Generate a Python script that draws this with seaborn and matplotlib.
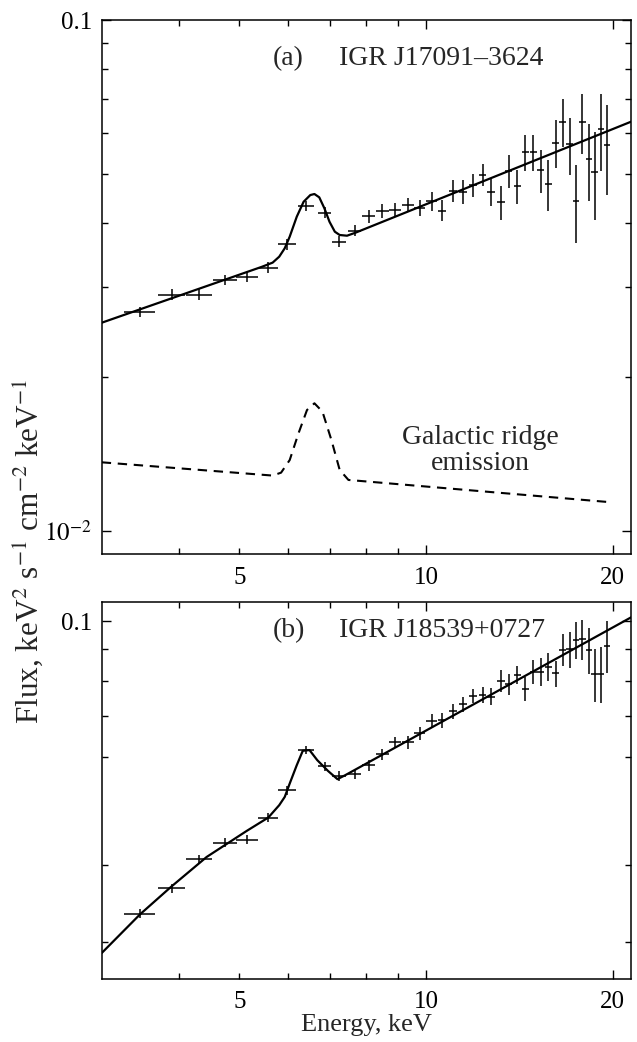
import matplotlib
matplotlib.use("Agg")
import matplotlib.pyplot as plt
from matplotlib.ticker import FixedLocator, FixedFormatter, NullFormatter
import pandas as pd
import seaborn as sns

# Energy bins shared by both spectra (keV): bin centres and half-widths
energy = [3.46, 3.89, 4.31, 4.75, 5.15, 5.57, 5.98, 6.41, 6.87, 7.25,
          7.68, 8.09, 8.51, 8.92, 9.35, 9.78, 10.22, 10.62, 11.05, 11.47,
          11.91, 12.34, 12.74, 13.20, 13.60, 14.04, 14.47, 14.90, 15.31, 15.76,
          16.19, 16.63, 17.06, 17.46, 17.88, 18.32, 18.72, 19.17, 19.58]
energy_halfwidth = [0.20, 0.19, 0.21, 0.21, 0.21, 0.20, 0.20, 0.19, 0.17, 0.19,
                    0.19, 0.19, 0.20, 0.20, 0.20, 0.20, 0.20, 0.17, 0.17, 0.17,
                    0.18, 0.18, 0.18, 0.19, 0.19, 0.19, 0.19, 0.20, 0.20, 0.21,
                    0.21, 0.21, 0.22, 0.22, 0.22, 0.23, 0.23, 0.23, 0.23]

# (a) IGR J17091-3624: measured flux and 1-sigma errors
flux_a = [0.02685, 0.02898, 0.02898, 0.03097, 0.03134, 0.03273, 0.03637, 0.04323, 0.04195, 0.03681,
          0.03868, 0.04131, 0.04226, 0.04246, 0.04348, 0.04290, 0.04416, 0.04232, 0.04632, 0.04611,
          0.04752, 0.04970, 0.04603, 0.04395, 0.05067, 0.04731, 0.05511, 0.05511, 0.05083, 0.04774,
          0.05751, 0.06323, 0.05709, 0.04421, 0.06323, 0.05333, 0.05045, 0.06109, 0.05681]
flux_a_err = [0.0006, 0.0007, 0.0007, 0.0007, 0.0007, 0.0008, 0.0009, 0.0010, 0.0010, 0.0009,
              0.0010, 0.0012, 0.0013, 0.0013, 0.0014, 0.0016, 0.0018, 0.0020, 0.0023, 0.0024,
              0.0024, 0.00245, 0.0028, 0.0033, 0.0038, 0.0036, 0.0045, 0.0045, 0.0049, 0.0055,
              0.0063, 0.0067, 0.0073, 0.0077, 0.0085, 0.0091, 0.0099, 0.0105, 0.0113]

# (a) best-fit model and Galactic ridge emission model
model_a_energy = [3.00, 5.44, 5.66, 5.80, 5.92, 6.03, 6.19, 6.35, 6.51, 6.61,
                  6.73, 6.86, 6.99, 7.13, 7.26, 7.46, 7.70, 21.43]
model_a_flux = [0.02554, 0.03287, 0.03349, 0.03440, 0.03573, 0.03765, 0.04119, 0.04407, 0.04542, 0.04563,
                0.04495, 0.04277, 0.04027, 0.03850, 0.03793, 0.03781, 0.03833, 0.06323]
ridge_energy = [3.00, 5.66, 5.84, 6.03, 6.23, 6.43, 6.61, 6.81, 7.04, 7.26, 7.50, 20.0]
ridge_flux = [0.01361, 0.01282, 0.01299, 0.01375, 0.01551, 0.01723, 0.01776, 0.01710, 0.01505, 0.01315,
              0.01257, 0.01136]

# (b) IGR J18539+0727: measured flux and 1-sigma errors
flux_b = [0.03337, 0.03666, 0.04088, 0.04356, 0.04405, 0.04786, 0.05304, 0.06165, 0.05803, 0.05590,
          0.05626, 0.05825, 0.06066, 0.06345, 0.06345, 0.06563, 0.06881, 0.06900, 0.07137, 0.07328,
          0.07561, 0.07580, 0.07532, 0.07998, 0.07889, 0.08174, 0.07750, 0.08276, 0.08276, 0.08433,
          0.08225, 0.08979, 0.09002, 0.09322, 0.09345, 0.08979, 0.08204, 0.08204, 0.09125]
flux_b_err = [0.0006, 0.0006, 0.0007, 0.0007, 0.0007, 0.0008, 0.0009, 0.0010, 0.0010, 0.0010,
              0.0010, 0.0012, 0.0013, 0.0014, 0.0015, 0.0016, 0.0018, 0.0019, 0.0020, 0.0021,
              0.0020, 0.0022, 0.0024, 0.0033, 0.0030, 0.0028, 0.0035, 0.0037, 0.0042, 0.0045,
              0.0040, 0.0054, 0.0062, 0.0064, 0.0069, 0.0076, 0.0082, 0.0086, 0.0089]

# (b) best-fit model
model_b_energy = [3.00, 3.46, 3.88, 4.43, 5.14, 5.57, 5.80, 5.92, 6.03, 6.19,
                  6.33, 6.49, 6.68, 6.95, 7.20, 7.41, 21.43]
model_b_flux = [0.02877, 0.03328, 0.03688, 0.04127, 0.04551, 0.04786, 0.05013, 0.05171, 0.05437, 0.05825,
                0.06149, 0.06165, 0.05936, 0.05702, 0.05527, 0.05610, 0.1015]

# Axis ticks and labels
x_major = [10, 20]
x_minor = [4, 5, 6, 7, 8, 9]
x_labels = {5: "5", 10: "10", 20: "20"}
ya_major = [0.01, 0.1]
ya_major_labels = [r"$10^{-2}$", "0.1"]
ya_minor = [0.02, 0.03, 0.04, 0.05, 0.06, 0.07, 0.08, 0.09]
yb_major = [0.1]
yb_major_labels = ["0.1"]
yb_minor = [0.03, 0.04, 0.06, 0.07, 0.08, 0.09]

title_a = ("(a)", "IGR J17091\u20133624")
title_b = ("(b)", "IGR J18539+0727")
ridge_label = "Galactic ridge\nemission"
x_title = "Energy, keV"
y_title = r"Flux, keV$^{2}$ s$^{-1}$ cm$^{-2}$ keV$^{-1}$"

sns.set_theme(style="ticks")
plt.rcParams["font.family"] = ["Liberation Serif", "DejaVu Serif"]
plt.rcParams["mathtext.fontset"] = "stix"
plt.rcParams["axes.linewidth"] = 1.1

fig = plt.figure(figsize=(6.37, 10.42), dpi=100)
ax_a = fig.add_axes([0.1597, 0.4683, 0.8305, 0.5125])
ax_b = fig.add_axes([0.1597, 0.0605, 0.8305, 0.3615])

spec_a = pd.DataFrame({"E": energy, "dE": energy_halfwidth, "F": flux_a, "dF": flux_a_err})
spec_b = pd.DataFrame({"E": energy, "dE": energy_halfwidth, "F": flux_b, "dF": flux_b_err})
fit_a = pd.DataFrame({"E": model_a_energy, "F": model_a_flux})
fit_b = pd.DataFrame({"E": model_b_energy, "F": model_b_flux})
ridge = pd.DataFrame({"E": ridge_energy, "F": ridge_flux})


def style_axes(ax, ylim, y_major, y_major_labels, y_minor):
    ax.set_xscale("log")
    ax.set_yscale("log")
    ax.set_xlim(3.0, 21.4)
    ax.set_ylim(*ylim)
    ax.xaxis.set_major_locator(FixedLocator(x_major))
    ax.xaxis.set_major_formatter(FixedFormatter([x_labels[v] for v in x_major]))
    ax.xaxis.set_minor_locator(FixedLocator(x_minor))
    ax.xaxis.set_minor_formatter(FixedFormatter([x_labels.get(v, "") for v in x_minor]))
    ax.yaxis.set_major_locator(FixedLocator(y_major))
    ax.yaxis.set_major_formatter(FixedFormatter(y_major_labels))
    ax.yaxis.set_minor_locator(FixedLocator(y_minor))
    ax.yaxis.set_minor_formatter(NullFormatter())
    ax.tick_params(which="both", direction="in", top=True, right=True,
                   width=1.0, colors="black", labelsize=18, pad=7)
    ax.tick_params(axis="x", which="both", pad=9)
    ax.tick_params(which="major", length=6.5)
    ax.tick_params(which="minor", length=4.3)
    for s in ax.spines.values():
        s.set_visible(True)
        s.set_color("black")
    ax.set_xlabel("")
    ax.set_ylabel("")


def draw_spectrum(ax, spec, fit):
    ax.errorbar(spec["E"], spec["F"], xerr=spec["dE"], yerr=spec["dF"],
                fmt="none", ecolor="black", elinewidth=1.1, capsize=0)
    sns.lineplot(data=fit, x="E", y="F", ax=ax, color="black", linewidth=1.6,
                 sort=False, estimator=None)


# Panel (a)
draw_spectrum(ax_a, spec_a, fit_a)
sns.lineplot(data=ridge, x="E", y="F", ax=ax_a, color="black", linewidth=1.5,
             sort=False, estimator=None, linestyle=(0, (4.5, 3.2)))
style_axes(ax_a, (0.009, 0.1), ya_major, ya_major_labels, ya_minor)
ax_a.text(0.3238, 0.9157, title_a[0], transform=ax_a.transAxes, fontsize=20, va="baseline")
ax_a.text(0.4478, 0.9157, title_a[1], transform=ax_a.transAxes, fontsize=20, va="baseline")
ax_a.text(0.7155, 0.193, ridge_label, transform=ax_a.transAxes, fontsize=20,
          ha="center", va="center", multialignment="center", linespacing=1.05)

# Panel (b)
draw_spectrum(ax_b, spec_b, fit_b)
style_axes(ax_b, (0.0261, 0.1074), yb_major, yb_major_labels, yb_minor)
ax_b.text(0.3238, 0.9071, title_b[0], transform=ax_b.transAxes, fontsize=20, va="baseline")
ax_b.text(0.4478, 0.9071, title_b[1], transform=ax_b.transAxes, fontsize=20, va="baseline")

fig.text(0.5746, 0.0163, x_title, fontsize=19, ha="center", va="center")
fig.text(0.045, 0.471, y_title, fontsize=22.5, rotation=90, ha="center", va="center")

fig.savefig("out.png", dpi=100, facecolor="white")
